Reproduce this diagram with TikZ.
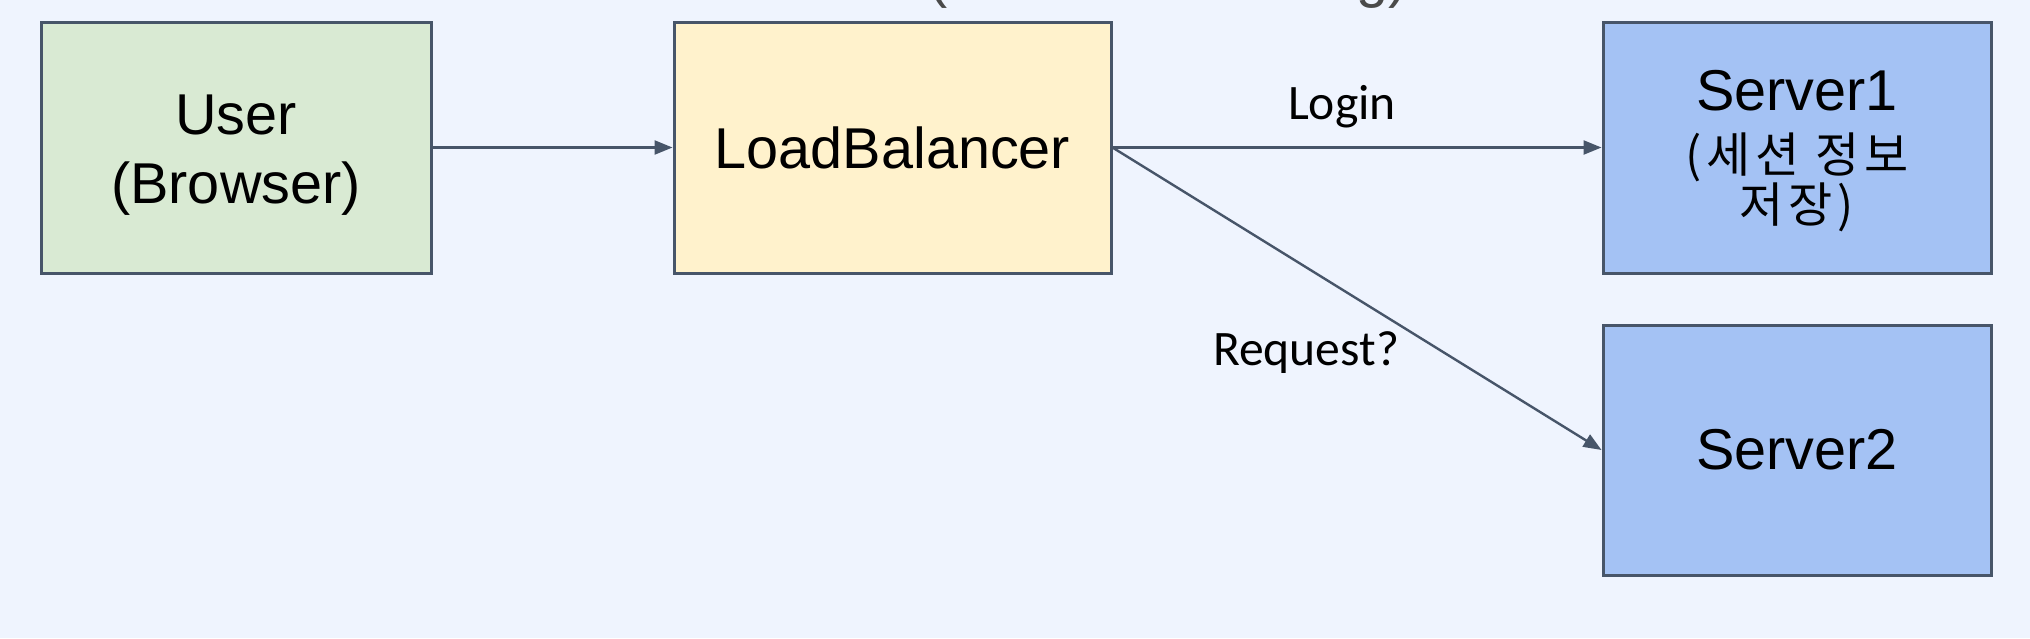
\documentclass[tikz,border=0pt]{standalone}
\usepackage{fontspec}
\setmainfont{Liberation Sans}
\newfontfamily\calfont{Carlito}
\newfontfamily\krfont[LetterSpace=10]{Noto Sans CJK KR}
\usetikzlibrary{arrows.meta}
\definecolor{bgc}{HTML}{EFF4FE}
\definecolor{edge}{HTML}{475569}
\definecolor{userfill}{HTML}{D9EAD3}
\definecolor{lbfill}{HTML}{FFF2CC}
\definecolor{srvfill}{HTML}{A4C2F4}
\definecolor{toptext}{HTML}{4A4A4A}
\tikzset{
  box/.style={draw=edge, line width=1.5pt, inner sep=0pt, align=center,
    font=\fontsize{28.8}{34.3}\selectfont},
  boxtext/.style={inner sep=0pt, align=center, font=\fontsize{28.8}{34.3}\selectfont},
  arr/.style={draw=edge, line width=1.2pt, -{Triangle[length=9pt,width=7pt]}},
  elabel/.style={font=\calfont\fontsize{24.8}{30}\selectfont, inner sep=0pt},
}
\begin{document}
\begin{tikzpicture}[x=0.5pt,y=-0.5pt]
\clip (0,0) rectangle (2030,638);
\fill[bgc] (0,0) rectangle (2030,638);
\useasboundingbox (0,0) rectangle (2030,638);
% cut-off title fragments
\node[anchor=base, text=toptext, inner sep=0pt, font=\fontsize{28.8}{34}\selectfont] (tl) at (938,-4) {(};
\node[anchor=base, text=toptext, inner sep=0pt, font=\fontsize{28.8}{34}\selectfont] (tr) at (1382,-4) {g)};
% boxes
\node[box, fill=userfill, minimum width=195pt, minimum height=125.5pt] (user) at (236,147.5) {};
\node[box, fill=lbfill, minimum width=218.5pt, minimum height=125.5pt] (lb) at (892.5,147.5) {LoadBalancer};
\node[box, fill=srvfill, minimum width=194pt, minimum height=125.5pt] (s1) at (1797,147.5) {};
\node[box, fill=srvfill, minimum width=194pt, minimum height=125pt] (s2) at (1797,450) {Server2};
% user text
\node[boxtext] (usert) at (236,155) {User\\(Browser)};
% server1 text
\node[boxtext] (s1a) at (1797,91) {Server1};
\node[inner sep=0pt, font=\krfont\fontsize{24}{28}\selectfont] (s1b) at (1797,157) {(세션 정보};
\node[inner sep=0pt, font=\krfont\fontsize{24}{28}\selectfont] (s1c) at (1797,207) {저장)};
% connectors
\draw[arr] (user.east) -- (lb.west);
\draw[arr] (lb.east) -- (s1.west);
\draw[arr] (lb.east) -- (s2.west);
% labels
\node[elabel] (login) at (1342,107) {Login};
\node[elabel] (req) at (1306,353) {Request?};
\end{tikzpicture}
\end{document}
